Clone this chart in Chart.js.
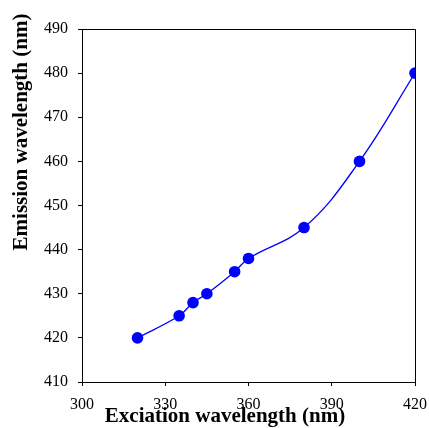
<!DOCTYPE html>
<html>
<head>
<meta charset="utf-8">
<script src="https://cdn.jsdelivr.net/npm/chart.js@4"></script>
<style>
  html, body { margin: 0; padding: 0; background: #fff; }
  #wrap { width: 429px; height: 428px; position: relative; }
</style>
</head>
<body>
<div id="wrap"><canvas id="chart"></canvas></div>
<script>
// Data
const excitation = [320, 335, 340, 345, 355, 360, 380, 400, 420];
const emission = [420, 425, 428, 430, 435, 438, 445, 460, 480];
const xTicks = [300, 330, 360, 390, 420];
const yTicks = [410, 420, 430, 440, 450, 460, 470, 480, 490];

const SERIF = '"Liberation Serif", "Times New Roman", serif';

// frame on top/right + axis titles
const framePlugin = {
    id: 'frame',
    afterDraw(chart) {
        const { ctx, chartArea: a } = chart;
        ctx.save();
        ctx.strokeStyle = '#000';
        ctx.lineWidth = 1;
        ctx.beginPath();
        ctx.moveTo(a.left, a.top + 0.5);
        ctx.lineTo(a.right + 0.5, a.top + 0.5);
        ctx.lineTo(a.right + 0.5, a.bottom);
        ctx.stroke();

        ctx.fillStyle = '#000';
        ctx.font = 'bold 21px ' + SERIF;
        ctx.textAlign = 'center';
        ctx.textBaseline = 'alphabetic';
        ctx.fillText('Exciation wavelength (nm)', 225, 422);

        ctx.translate(27, 132);
        ctx.rotate(-Math.PI / 2);
        ctx.fillText('Emission wavelength (nm)', 0, 0);
        ctx.restore();
    }
};

new Chart(document.getElementById('chart'), {
    type: 'scatter',
    data: {
        datasets: [{
            data: excitation.map((x, i) => ({ x: x, y: emission[i] })),
            showLine: true,
            borderColor: '#0000FF',
            borderWidth: 1.3,
            backgroundColor: '#0000FF',
            pointBackgroundColor: '#0000FF',
            pointBorderWidth: 0,
            pointRadius: 5.8,
            tension: 0.4
        }]
    },
    options: {
        responsive: true,
        maintainAspectRatio: false,
        animation: false,
        layout: { padding: { left: 0, right: 14, top: 29, bottom: 0 } },
        plugins: { legend: { display: false }, tooltip: { enabled: false } },
        scales: {
            x: {
                type: 'linear',
                min: 300, max: 420,
                afterBuildTicks: s => { s.ticks = xTicks.map(v => ({ value: v })); },
                afterFit: s => { s.height = 46; s.paddingLeft = 0; s.paddingRight = 0; },
                grid: { drawOnChartArea: false, drawTicks: true, tickLength: 4, color: '#000' },
                border: { color: '#000', width: 1 },
                ticks: { color: '#000', padding: 9, maxRotation: 0, font: { family: SERIF, size: 16 } }
            },
            y: {
                type: 'linear',
                min: 410, max: 490,
                afterBuildTicks: s => { s.ticks = yTicks.map(v => ({ value: v })); },
                afterFit: s => { s.width = 82; s.paddingTop = 0; s.paddingBottom = 0; },
                grid: { drawOnChartArea: false, drawTicks: true, tickLength: 4, color: '#000' },
                border: { color: '#000', width: 1 },
                ticks: { color: '#000', padding: 10, font: { family: SERIF, size: 16 } }
            }
        }
    },
    plugins: [framePlugin]
});
</script>
</body>
</html>
